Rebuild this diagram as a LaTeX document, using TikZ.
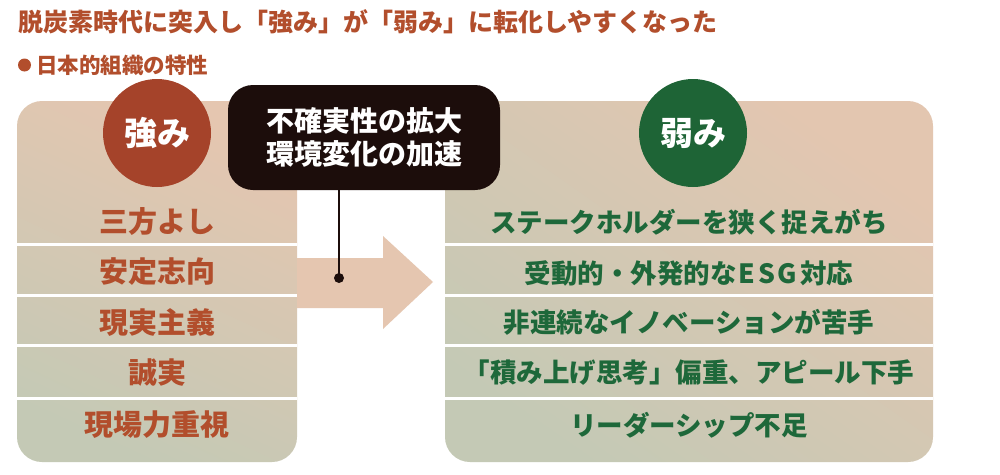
\documentclass[tikz,border=0pt]{standalone}
\usepackage{fontspec}
\setmainfont{Noto Sans CJK JP}
\usetikzlibrary{shapes.geometric}
\definecolor{rust}{RGB}{178,78,44}
\definecolor{rustc}{RGB}{165,67,42}
\definecolor{grn}{RGB}{30,104,58}
\definecolor{grnc}{RGB}{30,100,54}
\definecolor{peach}{RGB}{229,198,176}
\definecolor{sage}{RGB}{196,201,181}
\definecolor{boxblk}{RGB}{28,13,11}
\tikzset{
  lrow/.style={font=\bfseries\fontsize{29}{32}\selectfont, text=rust, inner sep=0pt},
  rrow/.style={font=\bfseries\fontsize{26.5}{30}\selectfont, text=grn, inner sep=0pt},
  badge/.style={circle, minimum size=108pt, inner sep=0pt, text=white, font=\bfseries\fontsize{33}{36}\selectfont},
  sep/.style={white, line width=3pt},
}
\begin{document}
\begin{tikzpicture}[x=1pt,y=-1pt]
\useasboundingbox[fill=white] (0,0) rectangle (1000,474);
% title
\node[anchor=west, inner sep=0pt, text=rust, font=\bfseries\fontsize{25}{28}\selectfont] (title) at (18,22) {脱炭素時代に突入し「強み」が「弱み」に転化しやすくなった};
\node[circle, fill=rust, minimum size=13pt, inner sep=0pt] (bullet) at (24.5,65) {};
\node[anchor=west, inner sep=0pt, text=rust, font=\bfseries\fontsize{21.5}{24}\selectfont] (sub) at (36,65) {日本的組織の特性};
% left panel
\path[rounded corners=25pt, top color=peach, middle color=peach!75!sage, bottom color=sage, shading angle=-25] (17,101) rectangle (297,462);
% arrow
\fill[peach] (297,258) -- (383,258) -- (383,236) -- (433,282) -- (383,329) -- (383,308) -- (297,308) -- cycle;
% right panel
\path[rounded corners=25pt, top color=peach!95!sage, middle color=sage!92!peach, bottom color=sage, shading angle=-35] (445,101) rectangle (933,462);
% separators
\foreach \y in {244,295,345,398} {
  \draw[sep] (17,\y) -- (297,\y);
  \draw[sep] (445,\y) -- (933,\y);
}
% badges
\node[badge, fill=rustc] (strong) at (157,133) {強み};
\node[badge, fill=grnc] (weak) at (693,133) {弱み};
% black box
\node[draw=none, fill=boxblk, rounded corners=25pt, minimum width=272pt, minimum height=105pt, text=white, align=center, font=\bfseries\fontsize{28}{33}\selectfont, inner sep=0pt] (box) at (364,137.5) {不確実性の拡大\\環境変化の加速};
\node[circle, fill=boxblk, minimum size=10pt, inner sep=0pt] (dot) at (339,278) {};
\draw[boxblk, line width=2pt] (dot |- box.south) -- (dot.center);
% left rows
\node[lrow] (l1) at (157,222) {三方よし};
\node[lrow] (l2) at (157,272) {安定志向};
\node[lrow] (l3) at (157,323) {現実主義};
\node[lrow] (l4) at (157,373) {誠実};
\node[lrow] (l5) at (157,425) {現場力重視};
% right rows
\node[rrow] (r1) at (689,222) {ステークホルダーを狭く捉えがち};
\node[rrow] (r2) at (689,273) {受動的・外発的な\kern2pt E\kern2.5pt S\kern2.5pt G\kern3pt 対応};
\node[rrow] (r3) at (689,322) {非連続なイノベーションが苦手};
\node[rrow] (r4) at (689,373) {「積み上げ思考」偏重、アピール下手};
\node[rrow] (r5) at (689,425) {リーダーシップ不足};
\end{tikzpicture}
\end{document}
